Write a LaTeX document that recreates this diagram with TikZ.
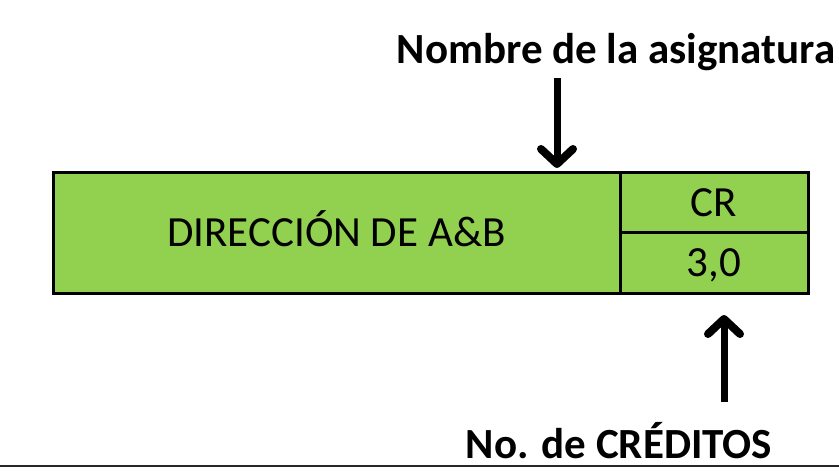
\documentclass[tikz,border=0pt]{standalone}
\usepackage{fontspec}
\setmainfont{Carlito}
\usetikzlibrary{arrows.meta,positioning}
\definecolor{verde}{HTML}{92D050}

\begin{document}
\begin{tikzpicture}[x=1pt,y=-1pt,
		celda/.style={draw=black, line width=3pt, fill=verde, inner sep=0pt, outer sep=0pt, text height=28pt, text depth=0pt, font=\fontsize{43}{48}\selectfont},
		etiqueta/.style={inner sep=0pt, font=\fontsize{43}{48}\selectfont\bfseries},
		flecha/.style={line width=7pt, -{Straight Barb[length=15pt,width=32pt,line width=8pt,round]}}]
		\useasboundingbox (0,0) rectangle (839,472);

		% casilla nombre
		\node[celda, minimum width=567pt, minimum height=121pt] (asig) at (336.5,232.5) {DIRECCIÓN DE A\&B};

		% casillas creditos
		\node[celda, minimum width=188pt, minimum height=60.5pt, anchor=north west] (cr) at (asig.north east) {CR};
		\node[celda, minimum width=188pt, minimum height=60.5pt, anchor=north west] (val) at (cr.south west) {3,0};

		% textos
		\node[etiqueta] (titulo) at (616,52) {Nombre de la asignatura};
		\node[etiqueta] (creditos) at (619,441) {No. de CRÉDITOS};

		% flecha arriba
		\coordinate (pA) at (557,78);
		\draw[flecha] (pA) -- ([yshift=4pt]pA |- asig.north);

		% flecha abajo
		\coordinate (pB) at (724,402);
		\draw[flecha] (pB) -- ([yshift=-22pt]pB |- val.south);

		% linea inferior
		\draw[line width=2pt, black!85] (0,466) -- (839,466);
\end{tikzpicture}
\end{document}
